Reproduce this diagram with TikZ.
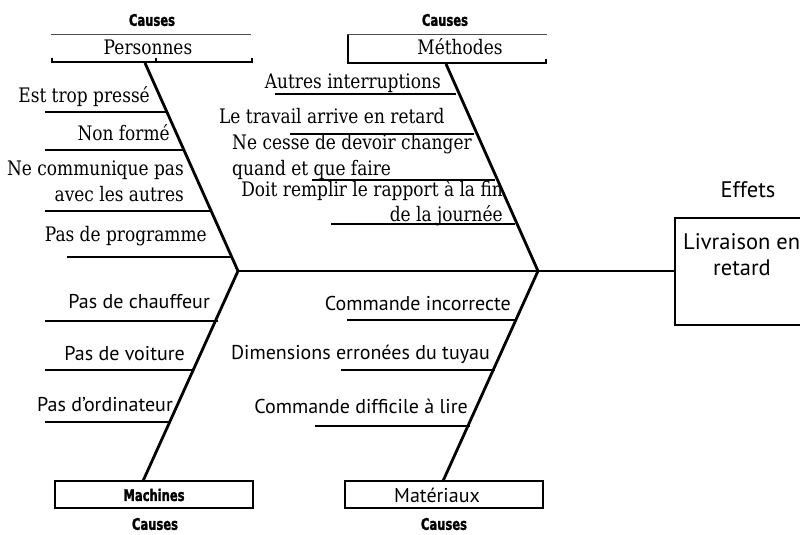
\documentclass[tikz,border=0pt]{standalone}
\usepackage{fontspec}
\setmainfont{PT Sans}
\newfontfamily\topf[FakeStretch=0.85]{DejaVu Serif}
\newfontfamily\capf[FakeStretch=0.72,BoldFeatures={FakeBold=1.5}]{DejaVu Sans}
\begin{document}
\begin{tikzpicture}[x=1pt,y=-1pt,
  bone/.style={line width=2.8pt},
  rib/.style={line width=1.8pt},
  thinline/.style={line width=0.8pt, draw=black!70},
  toptxt/.style={inner sep=0pt, font=\topf\fontsize{20}{26}\selectfont},
  bottxt/.style={inner sep=0pt, font=\fontsize{20}{26}\selectfont},
  efftxt/.style={inner sep=0pt, font=\fontsize{22.5}{26}\selectfont},
  causes/.style={inner sep=0pt, font=\capf\bfseries\fontsize{16}{18}\selectfont},
  boxl/.style={line width=2pt}]
\useasboundingbox (0,0) rectangle (800,535);
\clip (0,0) rectangle (800,535);

% spine vertices
\coordinate (v1) at (238,271);
\coordinate (v2) at (538,271);
\coordinate (tl) at (145,63);
\coordinate (tr) at (446,64);
\coordinate (bl) at (143,481);
\coordinate (br) at (443,481);

% effect box
\node (effets) at (748,190) [efftxt] {Effets};
\draw[boxl] (675,218) rectangle (812,325);
\coordinate (eff) at (676,271);
\node (livr) at (683,242) [efftxt, anchor=west] {Livraison en};
\node (ret) at (742,268) [efftxt] {retard};

% spine and bones
\draw[line width=2pt] (v1) -- (eff);
\draw[bone] (tl) -- (v1) -- (bl);
\draw[bone] (tr) -- (v2) -- (br);

% Personnes box
\node (c1) at (152,20) [causes] {Causes};
\draw[thinline] (51,34) -- (251,34);
\draw[boxl] (52,58) -- (52,62) -- (252,62) -- (252,58);
\draw[line width=1.2pt] (156,58) -- (156,62);
\node (pers) at (148,47) [toptxt] {Personnes};

% Methodes box
\node (c2) at (445,20) [causes] {Causes};
\draw[thinline] (347,34) -- (547,34);
\draw[boxl] (348,35) -- (348,63) -- (546,63) -- (546,59);
\node (meth) at (460,47) [toptxt] {Méthodes};

% Machines box
\draw[boxl] (55,481) rectangle (253,508);
\node (mach) at (154,495) [causes] {Machines};
\node (c3) at (155,524) [causes] {Causes};

% Materiaux box
\draw[boxl] (345,481) rectangle (543,508);
\node (mat) at (437,495) [bottxt] {Matériaux};
\node (c4) at (444,524) [causes] {Causes};

% top-left ribs
\draw[rib] (45,112) -- (166,112);
\draw[rib] (45,150) -- (183,150);
\draw[rib] (45,211) -- (211,211);
\draw[rib] (67,257) -- (232,257);
\node (a1) at (150,97) [toptxt, anchor=east] {Est trop pressé};
\node (a2) at (170,133) [toptxt, anchor=east] {Non formé};
\node (a3) at (184,181) [toptxt, anchor=east, align=right] {Ne communique pas\\avec les autres};
\node (a4) at (207,236) [toptxt, anchor=east] {Pas de programme};

% top-right ribs
\draw[rib] (275,94) -- (456,94);
\draw[rib] (290,134) -- (474,134);
\draw[rib] (312,180) -- (495,180);
\draw[rib] (331,224) -- (515,224);
\node (b1) at (441,83) [toptxt, anchor=east] {Autres interruptions};
\node (b2) at (219,116) [toptxt, anchor=west] {Le travail arrive en retard};
\node (b3) at (232,157) [toptxt, anchor=west, align=left] {Ne cesse de devoir changer\\quand et que faire};
\node (b4) at (503,203) [toptxt, anchor=east, align=right, font=\topf\fontsize{20}{25}\selectfont] {Doit remplir le rapport à la fin\\de la journée};

% bottom-left ribs
\draw[rib] (45,321) -- (218,321);
\draw[rib] (45,370) -- (194,370);
\draw[rib] (45,422) -- (170,422);
\node (d1) at (210,302) [bottxt, anchor=east] {Pas de chauffeur};
\node (d2) at (185,354) [bottxt, anchor=east] {Pas de voiture};
\node (d3) at (173,405) [bottxt, anchor=east] {Pas d’ordinateur};

% bottom-right ribs
\draw[rib] (347,320) -- (516,320);
\draw[rib] (341,370) -- (495,370);
\draw[rib] (315,426) -- (470,426);
\node (e1) at (511,303) [bottxt, anchor=east] {Commande incorrecte};
\node (e2) at (490,354) [bottxt, anchor=east] {Dimensions erronées du tuyau};
\node (e3) at (468,406) [bottxt, anchor=east] {Commande difficile à lire};
\end{tikzpicture}
\end{document}
